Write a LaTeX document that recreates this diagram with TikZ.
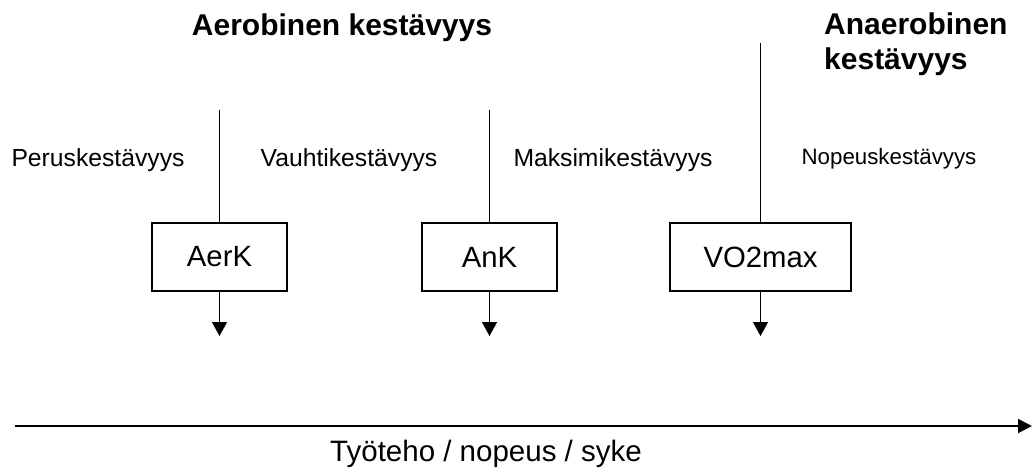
\documentclass[tikz,border=0pt]{standalone}
\usepackage{fontspec}
\setmainfont{Liberation Sans}
\usetikzlibrary{arrows.meta}
\begin{document}
\begin{tikzpicture}[x=1pt,y=-1pt,
  thresh/.style={draw=black,line width=1.3pt,minimum height=68pt,inner sep=0pt,
    font=\fontsize{29.3}{34}\selectfont},
  zone/.style={anchor=base,inner sep=0pt,font=\fontsize{24.7}{30}\selectfont},
  heading/.style={inner sep=0pt,font=\fontsize{30}{35}\selectfont\bfseries},
  divider/.style={line width=1.3pt},
  outarrow/.style={line width=1.3pt,-{Triangle[length=14pt,width=15pt]}},
  axis/.style={line width=1.8pt,-{Triangle[length=14pt,width=14pt]}}]
\useasboundingbox (0,0) rectangle (1033,467);

% headings (a multi-line node sits on the baseline of its last line)
\node[heading,anchor=base] (aero) at (342,35) {Aerobinen kestävyys};
\node[heading,anchor=base west,align=left] (anaero) at (824,69.5) {Anaerobinen\\kestävyys};

% zone labels
\node[zone] (perus) at (98,166.5) {Peruskestävyys};
\node[zone] (vauhti) at (349,166.5) {Vauhtikestävyys};
\node[zone] (maksimi) at (613,166.5) {Maksimikestävyys};
\node[zone,font=\fontsize{22.3}{27}\selectfont] (nopeus) at (889,164.5) {Nopeuskestävyys};

% thresholds
\node[thresh,minimum width=135pt] (aerk) at (219.5,257) {AerK};
\node[thresh,minimum width=135pt] (ank) at (489.5,257) {AnK};
\node[thresh,minimum width=181pt] (vo2) at (760.5,257) {VO2max};

\coordinate (aerktop) at (219.5,110);
\coordinate (anktop) at (489.5,110);
\coordinate (vo2top) at (760.5,42.5);
\coordinate (aerkend) at (219.5,336);
\coordinate (ankend) at (489.5,336);
\coordinate (vo2end) at (760.5,336);

\draw[divider] (aerktop) -- (aerk.north);
\draw[divider] (anktop) -- (ank.north);
\draw[divider] (vo2top) -- (vo2.north);
\draw[outarrow] (aerk.south) -- (aerkend);
\draw[outarrow] (ank.south) -- (ankend);
\draw[outarrow] (vo2.south) -- (vo2end);

% intensity axis
\coordinate (axstart) at (15,426);
\coordinate (axend) at (1032,426);
\draw[axis] (axstart) -- (axend);
\node[anchor=base,inner sep=0pt,font=\fontsize{29.5}{34}\selectfont] (axlabel) at (486,461.5) {Työteho / nopeus / syke};
\end{tikzpicture}
\end{document}
